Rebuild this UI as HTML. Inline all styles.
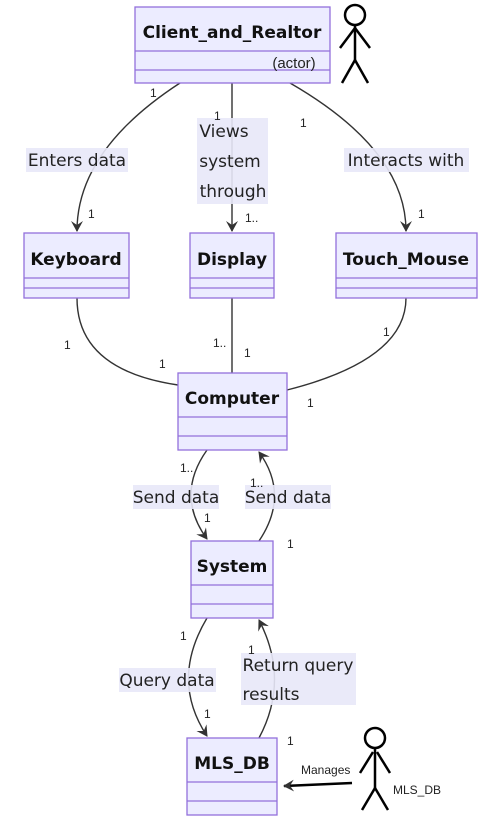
<!DOCTYPE html>
<html><head><meta charset="utf-8"><style>
html,body{margin:0;padding:0;background:#fff;}
svg{display:block;font-family:"DejaVu Sans","Liberation Sans",sans-serif;}
.box{fill:#ECECFF;stroke:#9370DB;stroke-width:1.3;}
.t{font-weight:bold;font-size:17px;fill:#111;text-anchor:middle;}
.e{fill:none;stroke:#333;stroke-width:1.4;}
.lb{fill:#E8E8F8;opacity:0.9;}
.lt{font-size:17px;fill:#222;text-anchor:middle;}
.m{font-size:12px;fill:#222;font-family:"Liberation Sans",sans-serif;}
.act{fill:none;stroke:#000;stroke-width:2.5;}
</style></head><body>
<svg width="498" height="825" viewBox="0 0 498 825">
<defs><marker id="a" markerWidth="12" markerHeight="12" refX="10" refY="6" orient="auto" markerUnits="userSpaceOnUse"><path d="M0,0 L11,6 L0,12 L4,6z" fill="#333"/></marker></defs>

<path class="e" d="M180,83 Q77,150 77,231" marker-end="url(#a)"/>
<path class="e" d="M232,83 L232,231" marker-end="url(#a)"/>
<path class="e" d="M290,83 Q406,150 406,231" marker-end="url(#a)"/>
<path class="e" d="M77,298 Q77,370 178,385"/>
<path class="e" d="M232,298 L232,373"/>
<path class="e" d="M406,298 Q406,360 287,390"/>
<path class="e" d="M207,450 Q175,495 207,539" marker-end="url(#a)"/>
<path class="e" d="M259,541 Q290,495 259,452" marker-end="url(#a)"/>
<path class="e" d="M207,618 Q170,680 207,736" marker-end="url(#a)"/>
<path class="e" d="M259,738 Q290,680 259,620" marker-end="url(#a)"/>
<path d="M352,783 L284,786" stroke="#000" stroke-width="2.5" fill="none" marker-end="url(#a)"/>

<rect class="lb" x="26" y="148" width="102" height="24"/><text class="lt" x="77" y="166">Enters data</text>
<rect class="lb" x="197" y="118" width="71" height="86"/>
<text class="lt" x="224" y="137">Views</text><text class="lt" x="230" y="167">system</text><text class="lt" x="233" y="197">through</text>
<rect class="lb" x="344" y="148" width="125" height="24"/><text class="lt" x="406" y="166">Interacts with</text>
<rect class="lb" x="133" y="485" width="86" height="24"/><text class="lt" x="176" y="503">Send data</text>
<rect class="lb" x="245" y="485" width="86" height="24"/><text class="lt" x="288" y="503">Send data</text>
<rect class="lb" x="119" y="668" width="97" height="24"/><text class="lt" x="167" y="686">Query data</text>
<rect class="lb" x="241" y="653" width="115" height="52"/>
<text class="lt" x="298" y="671">Return query</text><text class="lt" x="271" y="700">results</text>
<text class="m" x="301" y="774">Manages</text>

<text class="m" x="150" y="97">1</text>
<text class="m" x="214" y="120">1</text>
<text class="m" x="300" y="127">1</text>
<text class="m" x="88" y="218">1</text>
<text class="m" x="245" y="222">1..</text>
<text class="m" x="418" y="218">1</text>
<text class="m" x="64" y="349">1</text>
<text class="m" x="213" y="347">1..</text>
<text class="m" x="244" y="357">1</text>
<text class="m" x="383" y="336">1</text>
<text class="m" x="159" y="368">1</text>
<text class="m" x="307" y="407">1</text>
<text class="m" x="180" y="472">1..</text>
<text class="m" x="250" y="487">1..</text>
<text class="m" x="204" y="522">1</text>
<text class="m" x="287" y="548">1</text>
<text class="m" x="180" y="640">1</text>
<text class="m" x="248" y="654">1</text>
<text class="m" x="204" y="718">1</text>
<text class="m" x="287" y="745">1</text>
<text class="m" x="393" y="794">MLS_DB</text>

<rect class="box" x="135" y="7" width="195" height="76"/>
<line class="box" x1="135" y1="51" x2="330" y2="51"/><line class="box" x1="135" y1="70" x2="330" y2="70"/>
<text class="t" x="232" y="38">Client_and_Realtor</text>
<text x="294" y="68" font-size="15" font-family="Liberation Sans,sans-serif" text-anchor="middle" fill="#222">(actor)</text>

<rect class="box" x="24" y="233" width="105" height="65"/>
<line class="box" x1="24" y1="278" x2="129" y2="278"/><line class="box" x1="24" y1="288" x2="129" y2="288"/>
<text class="t" x="76" y="265">Keyboard</text>

<rect class="box" x="190" y="233" width="84" height="65"/>
<line class="box" x1="190" y1="278" x2="274" y2="278"/><line class="box" x1="190" y1="288" x2="274" y2="288"/>
<text class="t" x="232" y="265">Display</text>

<rect class="box" x="336" y="233" width="141" height="65"/>
<line class="box" x1="336" y1="278" x2="477" y2="278"/><line class="box" x1="336" y1="288" x2="477" y2="288"/>
<text class="t" x="406" y="265">Touch_Mouse</text>

<rect class="box" x="178" y="373" width="109" height="77"/>
<line class="box" x1="178" y1="417" x2="287" y2="417"/><line class="box" x1="178" y1="436" x2="287" y2="436"/>
<text class="t" x="232" y="404">Computer</text>

<rect class="box" x="191" y="541" width="82" height="77"/>
<line class="box" x1="191" y1="585" x2="273" y2="585"/><line class="box" x1="191" y1="604" x2="273" y2="604"/>
<text class="t" x="232" y="572">System</text>

<rect class="box" x="187" y="738" width="90" height="77"/>
<line class="box" x1="187" y1="782" x2="277" y2="782"/><line class="box" x1="187" y1="801" x2="277" y2="801"/>
<text class="t" x="232" y="769">MLS_DB</text>

<g class="act">
<circle cx="355" cy="15" r="10"/><line x1="355" y1="25" x2="355" y2="60"/>
<line x1="340" y1="48" x2="355" y2="28"/><line x1="370" y1="48" x2="355" y2="28"/>
<line x1="355" y1="60" x2="342" y2="83"/><line x1="355" y1="60" x2="368" y2="83"/>
<circle cx="375" cy="738" r="10"/><line x1="375" y1="748" x2="375" y2="788"/>
<line x1="360" y1="773" x2="373" y2="752"/><line x1="390" y1="773" x2="377" y2="752"/>
<line x1="375" y1="788" x2="362" y2="810"/><line x1="375" y1="788" x2="388" y2="810"/>
</g>
</svg>
</body></html>
